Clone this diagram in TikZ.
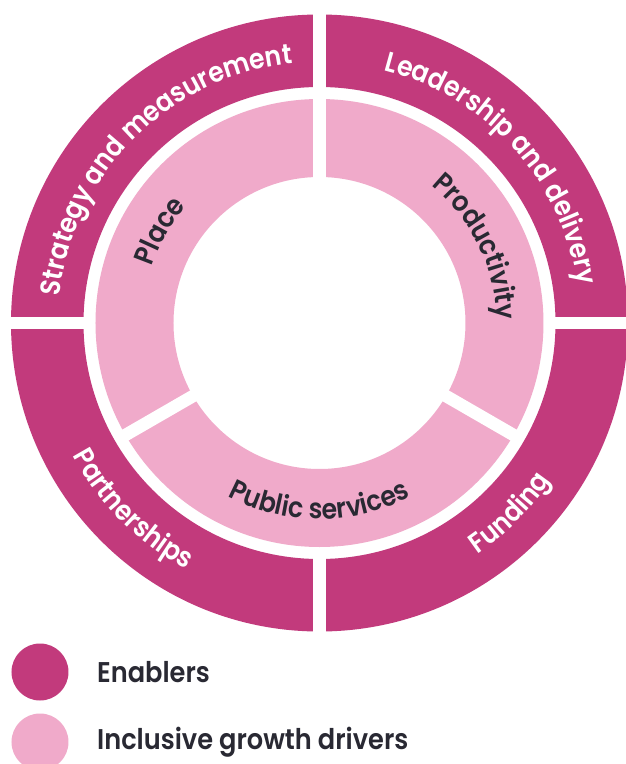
\documentclass[tikz,border=0pt]{standalone}
\usepackage{fontspec}
\setmainfont{Poppins}[BoldFont={Poppins SemiBold}, FakeStretch=0.9]
\usepackage{tikz}
\usetikzlibrary{decorations.text}

\definecolor{enablercol}{RGB}{194,58,124}
\definecolor{drivercol}{RGB}{240,170,202}
\definecolor{labelcol}{RGB}{41,41,51}

\newcommand{\ringfont}{\fontsize{28}{32}\selectfont\bfseries}

\begin{document}
\begin{tikzpicture}[x=1pt, y=1pt]
        \tikzstyle{enabler} = [fill=enablercol]
        \tikzstyle{driver} = [fill=drivercol]
        \tikzstyle{gap} = [draw=white, line width=12.5pt]
        \tikzstyle{outertext} = [decorate, decoration={text along path, text align=center, text color=white, text={|\ringfont|#1}}]
        \tikzstyle{innertext} = [decorate, decoration={text along path, text align=center, text color=labelcol, text={|\ringfont|#1}}]
        \tikzstyle{legenddot} = [circle, minimum size=57pt, inner sep=0pt]
        \tikzstyle{legendtext} = [anchor=base west, text=labelcol, font=\fontsize{28.5}{34}\selectfont\bfseries, inner sep=0pt]

        % Fondo y marco
        \fill[white] (-319.5,-441) rectangle (305.5,323);
        \useasboundingbox (-319.5,-441) rectangle (305.5,323);

        % Anillos
        \fill[enabler, even odd rule] (0,0) circle (308.5) (0,0) circle (236);
        \fill[driver, even odd rule] (0,0) circle (224) (0,0) circle (146);

        % Separaciones entre sectores
        \foreach \a in {0,90,180,270}
            \draw[gap] (\a:229) -- (\a:320);
        \foreach \a in {90,210,330}
            \draw[gap] (\a:140) -- (\a:230);

        % Textos del anillo exterior
        \path[outertext={Strategy and measurement}] (180:261) arc (180:90:261);
        \path[outertext={Leadership and delivery}] (84:261) arc (84:0:261);
        \path[outertext={Partnerships}] (180:280) arc (180:270:280);
        \path[outertext={Funding}] (270:280) arc (270:360:280);

        % Textos del anillo interior
        \path[innertext={Place}] (210:177) arc (210:90:177);
        \path[innertext={Productivity}] (90:177) arc (90:-38:177);
        \path[innertext={Public services}] (210:196) arc (210:330:196);

        % Leyenda
        \node[legenddot, fill=enablercol] (enablerdot) at (-279.5,-349) {};
        \node[legenddot, fill=drivercol] (driverdot) at (-279.5,-419) {};
        \node[legendtext] (enablerlabel) at (-222.5,-359) {Enablers};
        \node[legendtext] (driverlabel) at (-222.5,-426) {Inclusive growth drivers};
\end{tikzpicture}
\end{document}
